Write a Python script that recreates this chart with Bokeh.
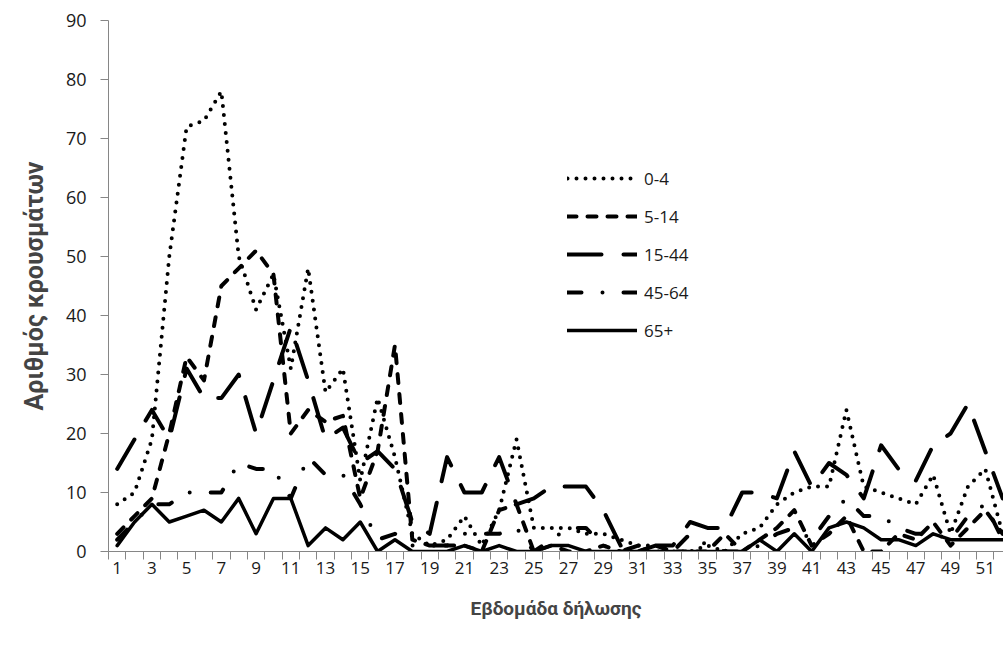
from bokeh.plotting import figure
from bokeh.models import FixedTicker, Legend, LegendItem, Range1d
from bokeh.embed import file_html
from bokeh.resources import INLINE

weeks = list(range(1, 53))

age_0_4 = [8, 10, 19, 50, 72, 73, 78, 50, 41, 47, 31, 48, 27, 31, 12, 26, 16, 3, 1, 2,
           6, 1, 7, 19, 4, 4, 4, 3, 3, 2, 1, 1, 0, 0, 1, 0, 3, 4, 8, 10,
           11, 11, 24, 11, 10, 9, 8, 13, 3, 11, 14, 3]
age_5_14 = [3, 6, 9, 20, 33, 29, 45, 48, 51, 47, 20, 24, 22, 23, 9, 17, 35, 2, 1, 1,
            1, 0, 7, 8, 0, 1, 0, 0, 1, 0, 0, 1, 0, 0, 0, 3, 0, 2, 4, 7,
            1, 3, 6, 0, 0, 3, 2, 5, 1, 4, 7, 3]
age_15_44 = [14, 19, 24, 19, 31, 26, 26, 30, 20, 29, 38, 29, 19, 21, 15, 17, 14, 5, 3, 16,
             10, 10, 16, 8, 9, 11, 11, 11, 7, 1, 0, 1, 1, 5, 4, 4, 10, 10, 9, 17,
             11, 15, 13, 9, 18, 14, 12, 18, 20, 25, 17, 9]
age_45_64 = [2, 5, 8, 8, 10, 10, 10, 15, 14, 14, 9, 16, 13, 13, 8, 2, 3, 1, 1, 1,
             3, 3, 3, 4, 0, 2, 4, 4, 1, 0, 1, 0, 0, 3, 1, 0, 0, 1, 3, 4,
             2, 6, 9, 6, 6, 4, 3, 3, 2, 6, 8, 2]
age_65 = [1, 5, 8, 5, 6, 7, 5, 9, 3, 9, 9, 1, 4, 2, 5, 0, 2, 0, 0, 0,
          1, 0, 1, 0, 0, 1, 1, 0, 0, 0, 0, 0, 0, 0, 0, 0, 0, 2, 0, 3,
          0, 4, 5, 4, 2, 2, 1, 3, 2, 2, 2, 2]

series_labels = ["0-4", "5-14", "15-44", "45-64", "65+"]
x_tick_labels = list(range(1, 52, 2))
y_ticks = list(range(0, 91, 10))

p = figure(width=1003, height=651, output_backend="svg", toolbar_location=None,
           x_range=Range1d(0.5, 52.05), y_range=Range1d(0, 90),
           min_border_left=108, min_border_right=0, min_border_top=20,
           min_border_bottom=100)
p.outline_line_color = None
p.grid.visible = False
p.background_fill_color = "white"
p.border_fill_color = "white"

AX = "#868686"
FONT = "Open Sans"
TITLE_FONT = "Roboto"

xa = p.xaxis[0]
xa.ticker = FixedTicker(ticks=x_tick_labels, minor_ticks=[w - 0.5 for w in range(1, 54)])
xa.major_tick_line_color = None
xa.major_tick_out = 0
xa.major_tick_in = 0
xa.minor_tick_out = 8
xa.minor_tick_in = 0
xa.minor_tick_line_color = AX
xa.axis_line_color = AX
xa.major_label_standoff = 2
xa.major_label_text_font = FONT
xa.major_label_text_font_size = "17px"
xa.major_label_text_color = "#1a1a1a"
xa.axis_label = "Εβδομάδα δήλωσης"
xa.axis_label_text_font = TITLE_FONT
xa.axis_label_text_font_style = "bold"
xa.axis_label_text_font_size = "19px"
xa.axis_label_standoff = 20

ya = p.yaxis[0]
ya.ticker = FixedTicker(ticks=y_ticks, minor_ticks=[])
ya.major_tick_out = 8
ya.major_tick_in = 0
ya.major_tick_line_color = AX
ya.axis_line_color = AX
ya.major_label_standoff = 14
ya.major_label_text_font = FONT
ya.major_label_text_font_size = "18px"
ya.major_label_text_color = "#1a1a1a"
ya.axis_label = "Αριθμός κρουσμάτων"
ya.axis_label_text_font = TITLE_FONT
ya.axis_label_text_font_style = "bold"
ya.axis_label_text_font_size = "25px"
ya.axis_label_standoff = 14

styles = [
    dict(line_dash="0 9", line_cap="round", line_width=4),
    dict(line_dash="9 11", line_cap="round", line_width=4),
    dict(line_dash="34 22", line_cap="round", line_width=4),
    dict(line_dash="14 21 0 21", line_cap="round", line_width=4),
    dict(line_dash="solid", line_cap="round", line_width=3.5),
]
data = [age_0_4, age_5_14, age_15_44, age_45_64, age_65]

items = []
for lab, vals, st in zip(series_labels, data, styles):
    r = p.line(weeks, vals, line_color="black", line_join="round", **st)
    items.append(LegendItem(label=lab, renderers=[r]))

legend = Legend(items=items, location=(459, 202), orientation="vertical",
                glyph_width=70, glyph_height=38, spacing=0, padding=0, margin=0,
                label_standoff=7, label_text_font=FONT, label_text_font_size="17px",
                label_text_color="#1a1a1a", border_line_color=None,
                background_fill_alpha=0)
p.add_layout(legend, "center")

open("out.html", "w").write(file_html(p, INLINE))
